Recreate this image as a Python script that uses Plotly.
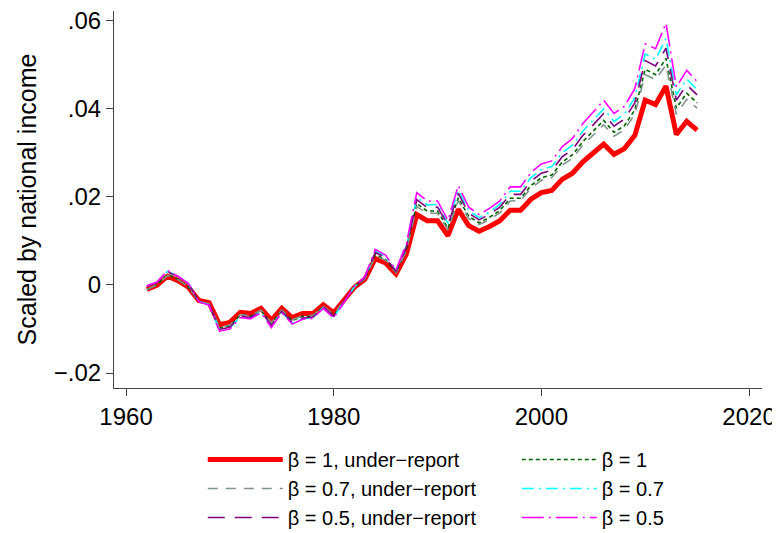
import plotly.graph_objects as go

years = list(range(1962, 2016))

beta1_ur = [-0.0010, 0.0000, 0.0020, 0.0010, -0.0005, -0.0035, -0.0040, -0.0090, -0.0085, -0.0062,
            -0.0065, -0.0053, -0.0080, -0.0053, -0.0074, -0.0065, -0.0065, -0.0045, -0.0063, -0.0034,
            -0.0005, 0.0013, 0.0060, 0.0050, 0.0025, 0.0070, 0.0160, 0.0146, 0.0146, 0.0112,
            0.0172, 0.0135, 0.0122, 0.0133, 0.0146, 0.0170, 0.0170, 0.0195, 0.0210, 0.0215,
            0.0240, 0.0254, 0.0280, 0.0300, 0.0320, 0.0297, 0.0310, 0.0340, 0.0420, 0.0410,
            0.0452, 0.0342, 0.0372, 0.0352]

beta07_ur = [-0.0011, 0.0001, 0.0022, 0.0012, -0.0004, -0.0037, -0.0043, -0.0096, -0.0091, -0.0067,
             -0.0070, -0.0057, -0.0086, -0.0057, -0.0079, -0.0070, -0.0069, -0.0048, -0.0067, -0.0036,
             -0.0005, 0.0014, 0.0066, 0.0056, 0.0028, 0.0078, 0.0178, 0.0163, 0.0163, 0.0125,
             0.0192, 0.0151, 0.0137, 0.0149, 0.0164, 0.0191, 0.0192, 0.0220, 0.0238, 0.0244,
             0.0272, 0.0288, 0.0318, 0.0341, 0.0364, 0.0338, 0.0353, 0.0388, 0.0478, 0.0467,
             0.0500, 0.0388, 0.0422, 0.0402]

beta1 = [-0.0011, 0.0001, 0.0024, 0.0013, -0.0004, -0.0038, -0.0044, -0.0098, -0.0093, -0.0068,
         -0.0071, -0.0058, -0.0088, -0.0058, -0.0081, -0.0071, -0.0071, -0.0049, -0.0069, -0.0037,
         -0.0005, 0.0015, 0.0069, 0.0058, 0.0029, 0.0081, 0.0185, 0.0168, 0.0168, 0.0129,
         0.0198, 0.0156, 0.0141, 0.0154, 0.0169, 0.0197, 0.0197, 0.0226, 0.0244, 0.0250,
         0.0279, 0.0296, 0.0326, 0.0350, 0.0374, 0.0347, 0.0362, 0.0398, 0.0490, 0.0478,
         0.0515, 0.0402, 0.0436, 0.0414]

beta05_ur = [-0.0003, 0.0006, 0.0030, 0.0019, 0.0003, -0.0036, -0.0044, -0.0101, -0.0096, -0.0071,
             -0.0074, -0.0060, -0.0092, -0.0060, -0.0085, -0.0075, -0.0073, -0.0050, -0.0071, -0.0037,
             -0.0004, 0.0017, 0.0074, 0.0062, 0.0031, 0.0086, 0.0194, 0.0176, 0.0177, 0.0136,
             0.0208, 0.0163, 0.0148, 0.0161, 0.0177, 0.0206, 0.0206, 0.0236, 0.0254, 0.0261,
             0.0291, 0.0308, 0.0340, 0.0364, 0.0390, 0.0361, 0.0377, 0.0414, 0.0510, 0.0498,
             0.0538, 0.0420, 0.0455, 0.0432]

beta07 = [-0.0003, 0.0006, 0.0031, 0.0019, 0.0003, -0.0037, -0.0045, -0.0103, -0.0098, -0.0072,
          -0.0075, -0.0061, -0.0094, -0.0061, -0.0087, -0.0076, -0.0075, -0.0051, -0.0073, -0.0038,
          -0.0004, 0.0018, 0.0077, 0.0064, 0.0032, 0.0089, 0.0200, 0.0182, 0.0183, 0.0140,
          0.0215, 0.0169, 0.0153, 0.0166, 0.0183, 0.0213, 0.0213, 0.0244, 0.0262, 0.0269,
          0.0300, 0.0318, 0.0350, 0.0375, 0.0400, 0.0372, 0.0388, 0.0426, 0.0525, 0.0513,
          0.0560, 0.0432, 0.0468, 0.0444]

beta05 = [-0.0002, 0.0007, 0.0033, 0.0020, 0.0004, -0.0038, -0.0046, -0.0105, -0.0100, -0.0074,
          -0.0077, -0.0063, -0.0097, -0.0063, -0.0089, -0.0078, -0.0076, -0.0053, -0.0075, -0.0039,
          -0.0003, 0.0019, 0.0081, 0.0068, 0.0034, 0.0094, 0.0210, 0.0191, 0.0191, 0.0147,
          0.0226, 0.0177, 0.0160, 0.0174, 0.0191, 0.0223, 0.0223, 0.0256, 0.0275, 0.0282,
          0.0314, 0.0333, 0.0367, 0.0393, 0.0420, 0.0390, 0.0406, 0.0446, 0.0548, 0.0537,
          0.0595, 0.0450, 0.0488, 0.0462]

x_ticks = [1960, 1980, 2000, 2020]
y_ticks = [-0.02, 0, 0.02, 0.04, 0.06]
y_tick_labels = ["\u2212.02", "0", ".02", ".04", ".06"]

series = [
    ("\u03b2 = 1, under\u2212report", beta1_ur, "#ff0000", 5, "solid"),
    ("\u03b2 = 1", beta1, "#006400", 1.6, "4px,3px"),
    ("\u03b2 = 0.7, under\u2212report", beta07_ur, "#7f958c", 1.6, "10px,8px"),
    ("\u03b2 = 0.7", beta07, "#00ffff", 1.6, "12px,5px,2px,5px"),
    ("\u03b2 = 0.5, under\u2212report", beta05_ur, "#800080", 1.6, "17px,10px"),
    ("\u03b2 = 0.5", beta05, "#ff00ff", 1.6, "22px,5px,2px,5px"),
]

fig = go.Figure()
for name, vals, color, width, dash in series:
    fig.add_trace(go.Scatter(x=years, y=vals, mode="lines", name=name,
                             line=dict(color=color, width=width, dash=dash)))

fig.update_layout(
    width=772, height=525,
    paper_bgcolor="white", plot_bgcolor="white",
    margin=dict(l=106, r=18, t=3, b=145, autoexpand=False),
    font=dict(family="Liberation Sans, Arial, sans-serif", color="black"),
    showlegend=True,
    legend=dict(orientation="h", x=0.137, xanchor="left", y=-0.138, yanchor="top",
                entrywidth=224, itemwidth=75, font=dict(size=20), tracegroupgap=0),
)
fig.update_xaxes(range=[1958.84, 2021.25], tickvals=x_ticks, ticks="outside", ticklen=7,
                 tickcolor="#444", showline=True, linecolor="#444", linewidth=1.2,
                 showgrid=False, zeroline=False, tickfont=dict(size=24),
                 ticklabeloverflow="allow")
fig.update_yaxes(range=[-0.02341, 0.06227], tickvals=y_ticks, ticktext=y_tick_labels,
                 ticks="outside", ticklen=7, tickcolor="#444", showline=True, linecolor="#444",
                 linewidth=1.2, showgrid=False, zeroline=False, tickfont=dict(size=24),
                 ticklabeloverflow="allow",
                 title=dict(text="Scaled by national income", font=dict(size=25), standoff=9))

fig.write_html("out.html")
